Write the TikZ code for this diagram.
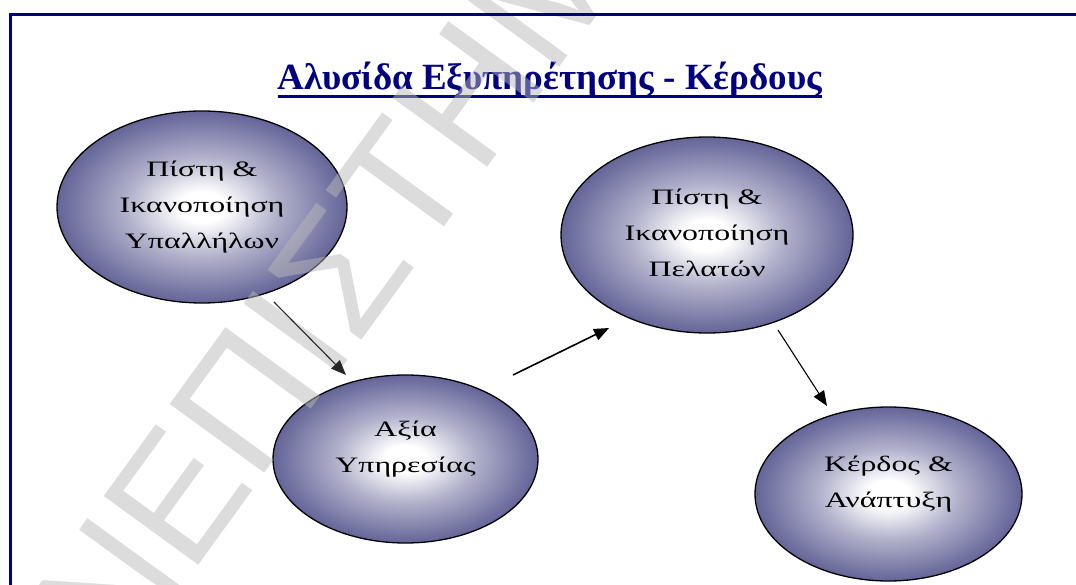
\documentclass[tikz,border=0pt]{standalone}
\usepackage{fontspec}
\setmainfont{Liberation Serif}
\newfontfamily\wmfont{Liberation Sans}
\newfontfamily\ellfont[FakeStretch=1.45]{Liberation Serif}
\usetikzlibrary{shapes.geometric,arrows.meta}
\definecolor{navyc}{RGB}{0,0,128}
\definecolor{slatec}{RGB}{100,100,152}
\definecolor{wmgray}{RGB}{185,185,185}
\colorlet{midc}{slatec!50!white}
\pgfdeclareradialshading{ballshade}{\pgfpoint{0bp}{0bp}}{color(0bp)=(white); color(4bp)=(white); color(13bp)=(midc); color(25bp)=(slatec); color(100bp)=(slatec)}
\pgfdeclarelayer{bg}\pgfdeclarelayer{wm}
\pgfsetlayers{bg,wm,main}
\newcommand\myuline[1]{\setbox0=\hbox{#1}\rlap{\raisebox{-8.5pt}{\rule{\wd0}{3.5pt}}}\box0}
\begin{document}
\begin{tikzpicture}[x=1pt,y=-1pt,
  ball/.style={ellipse, draw=black, line width=1.3pt, shading=ballshade, inner sep=0pt},
  lbl/.style={align=center, inner sep=0pt, font=\ellfont\fontsize{22}{36}\selectfont},
  arr/.style={-{Triangle[length=15pt,width=12pt]}, line width=1.3pt},
  wmark/.style={rotate=54, anchor=base west, inner sep=0pt, text=wmgray, text opacity=0.5,
     font=\wmfont\fontsize{170}{170}\selectfont}]
\useasboundingbox (0,0) rectangle (1076,585);
\draw[navyc, line width=3pt] (1076,14.7) -- (10,14.7) -- (10,585);
\begin{pgfonlayer}{bg}
% title
\node[anchor=base, inner sep=0pt, text=navyc, font=\fontsize{37}{40}\selectfont\bfseries] (title) at (550,90)
  {\myuline{Αλυσίδα Εξυπηρέτησης - Κέρδους}};
% ellipses
\node[ball, minimum width=290pt, minimum height=192pt] (e1) at (202,207) {};
\node[ball, minimum width=265pt, minimum height=168pt] (e2) at (405.5,459) {};
\node[ball, minimum width=292pt, minimum height=196pt] (e3) at (707,235) {};
\node[ball, minimum width=267pt, minimum height=174pt] (e4) at (888.5,494) {};
\end{pgfonlayer}
% watermark
\begin{pgfonlayer}{wm}
\begin{scope}
\clip (0,0) rectangle (1076,585);
\node[wmark] (wm) at (118,676) {ΝΕΠΙΣΤΗΜ};
\end{scope}
\end{pgfonlayer}
% labels
\node[lbl] (l1) at (e1.center) {Πίστη \&\\Ικανοποίηση\\Υπαλλήλων};
\node[lbl, yshift=9.5pt] (l2) at (e2.center) {Αξία\\Υπηρεσίας};
\node[lbl, yshift=2.5pt] (l3) at (e3.center) {Πίστη \&\\Ικανοποίηση\\Πελατών};
\node[lbl, yshift=10pt] (l4) at (e4.center) {Κέρδος \&\\Ανάπτυξη};
% arrows
\coordinate (a1s) at (274,302); \coordinate (a1e) at (346,375);
\coordinate (a2s) at (513,375); \coordinate (a2e) at (609,328);
\coordinate (a3s) at (778,330); \coordinate (a3e) at (827,406);
\draw[arr, line width=1.1pt, black!85] (a1s) -- (a1e);
\draw[arr, line width=1.6pt] (a2s) -- (a2e);
\draw[arr, line width=1.1pt] (a3s) -- (a3e);
\end{tikzpicture}
\end{document}
